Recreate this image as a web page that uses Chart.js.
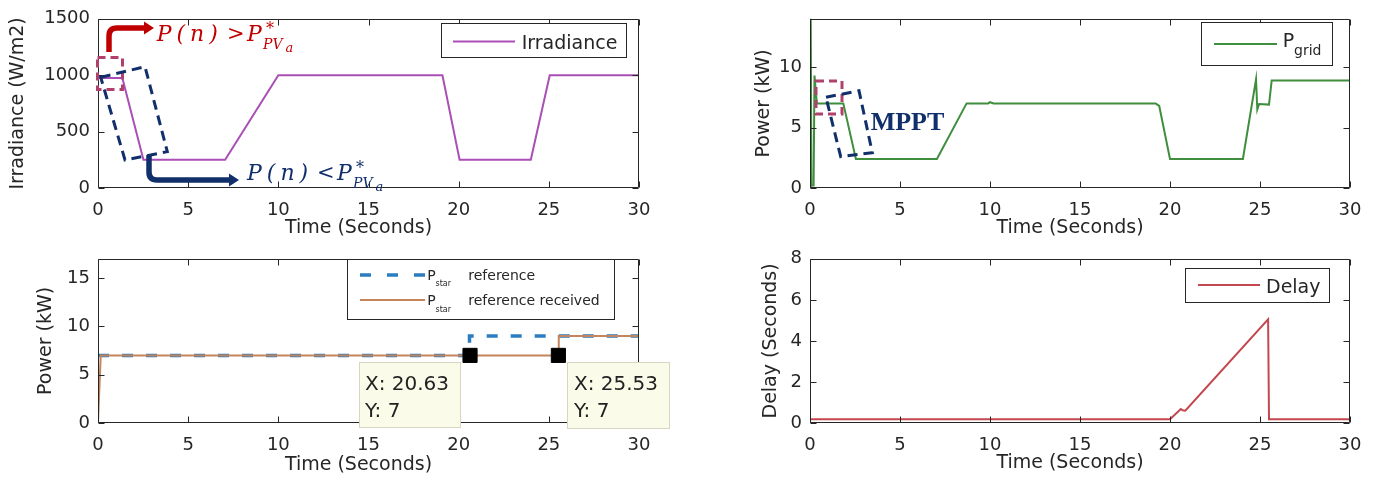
<!DOCTYPE html>
<html><head><meta charset="utf-8">
<script src="https://cdn.jsdelivr.net/npm/chart.js@4.4.0/dist/chart.umd.min.js"></script>
<style>
html,body{margin:0;padding:0;background:#fff;}
body{width:1375px;height:478px;position:relative;overflow:hidden;font-family:'DejaVu Sans',sans-serif;color:#262626;}
.pane{position:absolute;}
.pane canvas{display:block;}
.box{position:absolute;box-sizing:border-box;background:#fff;border:1px solid #262626;}
.tip{position:absolute;box-sizing:border-box;background:#fbfbea;border:1px solid #d6d6c2;}
.t{position:absolute;line-height:1;white-space:pre;}
.s{font-family:'DejaVu Sans',sans-serif;color:#262626;}
.m{font-family:'DejaVu Serif',serif;font-style:italic;}
.r{color:#c00000;}
.n{color:#112f6b;}
</style></head>
<body>
<div class="pane" style="left:0;top:0;width:687px;height:240px"><canvas id="c1" width="687" height="240"></canvas></div>
<div class="pane" style="left:687px;top:0;width:688px;height:240px"><canvas id="c2" width="688" height="240"></canvas></div>
<div class="pane" style="left:0;top:240px;width:687px;height:238px"><canvas id="c3" width="687" height="238"></canvas></div>
<div class="pane" style="left:687px;top:240px;width:688px;height:238px"><canvas id="c4" width="688" height="238"></canvas></div>

<!-- legends -->
<div class="box" style="left:441px;top:23px;width:186px;height:35px"></div>
<div class="box" style="left:1201px;top:22px;width:132px;height:44px"></div>
<div class="box" style="left:347px;top:259px;width:268px;height:61px"></div>
<div class="box" style="left:1185px;top:268px;width:145px;height:35px"></div>

<!-- data tips -->
<div class="tip" style="left:359px;top:362px;width:102px;height:66px"></div>
<div class="tip" style="left:567px;top:362px;width:103px;height:67px"></div>

<svg width="1375" height="478" style="position:absolute;left:0;top:0;pointer-events:none">
  <line x1="453" y1="41.5" x2="515" y2="41.5" stroke="#a94fb5" stroke-width="2"/>
  <line x1="1214" y1="44" x2="1277" y2="44" stroke="#3e8e3e" stroke-width="2"/>
  <line x1="360" y1="275" x2="426" y2="275" stroke="#2b7cc0" stroke-width="3.5" stroke-dasharray="11 16"/>
  <line x1="360" y1="300" x2="425" y2="300" stroke="#c4845c" stroke-width="2"/>
  <line x1="1198" y1="285" x2="1260" y2="285" stroke="#c3474e" stroke-width="2"/>

  <path d="M109,52 V36 Q109,28 117,28 H146" fill="none" stroke="#c00000" stroke-width="5.5"/>
  <polygon points="144,21.5 154,28 144,34.5" fill="#c00000"/>
  <path d="M149,155 V172 Q149,180 157,180 H231" fill="none" stroke="#112f6b" stroke-width="5.5"/>
  <polygon points="229,173.5 239,180 229,186.5" fill="#112f6b"/>
  <rect x="97.5" y="57.5" width="25" height="32" fill="none" stroke="#b0406c" stroke-width="3" stroke-dasharray="8 5"/>
  <polygon points="100.7,77.3 145,66.7 167.3,151.7 125,160" fill="none" stroke="#112f6b" stroke-width="3" stroke-dasharray="10 6"/>
  <rect x="816" y="81" width="26" height="33" fill="none" stroke="#b0406c" stroke-width="3" stroke-dasharray="8 5"/>
  <polygon points="826,97.3 859,90.7 872.3,152.7 840.7,156.7" fill="none" stroke="#112f6b" stroke-width="3" stroke-dasharray="10 6"/>
</svg>

<!-- legend texts -->
<span class="t s" style="left:521.7px;top:33.2px;font-size:19px">Irradiance</span>
<span class="t s" style="left:1282.7px;top:31.2px;font-size:19px">P</span>
<span class="t s" style="left:1294px;top:43.2px;font-size:14px">grid</span>
<span class="t s" style="left:427.3px;top:267.5px;font-size:14px">P</span>
<span class="t s" style="left:435.5px;top:280.2px;font-size:8px">star</span>
<span class="t s" style="left:468.3px;top:267.5px;font-size:14px">reference</span>
<span class="t s" style="left:427.3px;top:293.2px;font-size:14px">P</span>
<span class="t s" style="left:435.5px;top:305.7px;font-size:8px">star</span>
<span class="t s" style="left:468.3px;top:293.2px;font-size:14px">reference received</span>
<span class="t s" style="left:1266px;top:277.2px;font-size:19px">Delay</span>

<!-- data tip texts -->
<span class="t s" style="left:365px;top:373.1px;font-size:20px;color:#222">X: 20.63</span>
<span class="t s" style="left:365px;top:399.8px;font-size:20px;color:#222">Y: 7</span>
<span class="t s" style="left:574px;top:373.1px;font-size:20px;color:#222">X: 25.53</span>
<span class="t s" style="left:574px;top:399.8px;font-size:20px;color:#222">Y: 7</span>

<!-- annotations -->
<span class="t m r" style="left:156.7px;top:23px;font-size:22px;letter-spacing:5px">P(n)</span>
<span class="t r" style="left:227px;top:23px;font-size:21px;font-family:'DejaVu Serif',serif">&gt;</span>
<span class="t m r" style="left:247px;top:23px;font-size:22px">P</span>
<span class="t m r" style="left:266px;top:20.5px;font-size:16px">*</span>
<span class="t m r" style="left:263px;top:37px;font-size:14px">PV</span>
<span class="t m r" style="left:285.5px;top:41px;font-size:13px">a</span>

<span class="t m n" style="left:247px;top:162.3px;font-size:22px;letter-spacing:5px">P(n)</span>
<span class="t n" style="left:317px;top:162.3px;font-size:21px;font-family:'DejaVu Serif',serif">&lt;</span>
<span class="t m n" style="left:337px;top:162.3px;font-size:22px">P</span>
<span class="t m n" style="left:356px;top:159.8px;font-size:16px">*</span>
<span class="t m n" style="left:353px;top:176.3px;font-size:14px">PV</span>
<span class="t m n" style="left:375.5px;top:180.3px;font-size:13px">a</span>

<span class="t n" style="left:870.7px;top:108.9px;font-size:26px;font-family:'Liberation Serif',serif;font-weight:bold">MPPT</span>

<script>
// ---- data ----
const xTicks = [0, 5, 10, 15, 20, 25, 30];
const irrTicks = [0, 500, 1000, 1500];
const gridTicks = [0, 5, 10];
const pstarTicks = [0, 5, 10, 15];
const delayTicks = [0, 2, 4, 6, 8];

const irrTime  = [0, 1.35, 2.52, 7.05, 10.0, 19.1, 20.05, 24.0, 25.05, 30];
const irrValue = [975, 975, 250, 250, 1000, 1000, 250, 250, 1000, 1000];

const gridTime  = [0, 0.04, 0.08, 0.2, 0.25, 0.38, 1.85, 2.55, 7.05, 8.7, 9.9, 10.0, 10.2, 19.2, 19.4, 20.0, 24.05, 24.78, 24.85, 24.95, 25.5, 25.65, 30];
const gridPower = [0, 14.2, 0.2, 0.2, 9.3, 7.0, 7.0, 2.4, 2.4, 7.0, 7.0, 7.1, 7.0, 7.0, 6.8, 2.4, 2.4, 9.0, 6.5, 6.95, 6.9, 8.9, 8.9];

const refTime  = [0, 20.6, 20.6, 30];
const refPower = [7, 7, 9, 9];
const recTime  = [0, 0.15, 25.53, 25.55, 30];
const recPower = [0, 7, 7, 9, 9];
const tipTime  = [20.63, 25.53];
const tipPower = [7, 7];

const delayTime  = [0, 20.0, 20.6, 20.7, 20.85, 25.45, 25.5, 30];
const delayValue = [0.18, 0.18, 0.68, 0.62, 0.6, 5.05, 0.18, 0.18];

// ---- helpers ----
const INK = '#262626';
Chart.defaults.font.family = "'DejaVu Sans', sans-serif";
Chart.defaults.color = INK;
const pts = (xs, ys) => xs.map((x, i) => ({x: x, y: ys[i]}));

const matlabFrame = {
  id: 'matlabFrame',
  afterDraw(chart) {
    const {ctx, chartArea: a, scales: {x, y}} = chart;
    const L = Math.round(a.left) + 0.5, R = Math.round(a.right) - 0.5;
    const T = Math.round(a.top) + 0.5, B = Math.round(a.bottom) - 0.5;
    ctx.save();
    ctx.strokeStyle = INK; ctx.lineWidth = 1;
    ctx.beginPath();
    ctx.rect(L, T, R - L, B - T);
    const len = 6;
    x.ticks.forEach(t => {
      const p = Math.round(x.getPixelForValue(t.value)) + 0.5;
      ctx.moveTo(p, B); ctx.lineTo(p, B - len);
      ctx.moveTo(p, T); ctx.lineTo(p, T + len);
    });
    y.ticks.forEach(t => {
      const p = Math.round(y.getPixelForValue(t.value)) + 0.5;
      ctx.moveTo(L, p); ctx.lineTo(L + len, p);
      ctx.moveTo(R, p); ctx.lineTo(R - len, p);
    });
    ctx.stroke();
    ctx.restore();
  }
};
// MATLAB places the x label a little left of the axes centre: shift only the title while the scale draws
const titleShift = {
  id: 'titleShift',
  beforeDraw(chart, args, opts) {
    const s = chart.scales.x;
    if (opts && opts.dx) { s.left += opts.dx; s.right += opts.dx; chart.$shifted = true; }
  },
  beforeDatasetsDraw(chart, args, opts) {
    const s = chart.scales.x;
    if (chart.$shifted) { s.left -= opts.dx; s.right -= opts.dx; chart.$shifted = false; }
  }
};

function panel(id, cfg) {
  return new Chart(document.getElementById(id), {
    type: 'line',
    data: {datasets: cfg.datasets},
    options: {
      responsive: false, animation: false, devicePixelRatio: 1,
      layout: {padding: {left: 0, top: cfg.top, right: cfg.right, bottom: 0}},
      elements: {point: {radius: 0}, line: {tension: 0}},
      plugins: {legend: {display: false}, tooltip: {enabled: false}, titleShift: {dx: -10}},
      scales: {
        x: {
          type: 'linear', min: 0, max: 30,
          afterBuildTicks: s => { s.ticks = xTicks.map(v => ({value: v})); },
          afterFit: s => { s.height = cfg.xh; },
          grid: {display: false, drawTicks: false}, border: {display: false},
          ticks: {padding: 12, color: INK, font: {size: 18}, maxRotation: 0, autoSkip: false, callback: v => String(v)},
          title: {display: true, text: 'Time (Seconds)', color: INK, font: {size: 19}, padding: {top: 0, bottom: cfg.xtp}}
        },
        y: {
          type: 'linear', min: cfg.ymin, max: cfg.ymax,
          afterBuildTicks: s => { s.ticks = cfg.yTicks.map(v => ({value: v})); },
          afterFit: s => { s.width = cfg.yw; },
          grid: {display: false, drawTicks: false}, border: {display: false},
          ticks: {padding: 8, color: INK, font: {size: 18}, autoSkip: false, callback: v => String(v)},
          title: {display: true, text: cfg.ytitle, color: INK, font: {size: 19}, padding: {top: cfg.ytp, bottom: 0}}
        }
      }
    },
    plugins: [matlabFrame, titleShift]
  });
}

const lineDs = (label, xs, ys, color, extra) => Object.assign({
  label: label, data: pts(xs, ys), borderColor: color, backgroundColor: color,
  borderWidth: 2, pointRadius: 0, fill: false
}, extra || {});

panel('c1', {
  top: 15, right: 48, yw: 98, xh: 52, xtp: 1, ytp: 6.6,
  ymin: 0, ymax: 1500, yTicks: irrTicks, ytitle: 'Irradiance (W/m2)',
  datasets: [lineDs('Irradiance', irrTime, irrValue, '#a94fb5')]
});
panel('c2', {
  top: 15, right: 25, yw: 123, xh: 52, xtp: 1, ytp: 65.6,
  ymin: 0, ymax: 14, yTicks: gridTicks, ytitle: 'Power (kW)',
  datasets: [lineDs('Pgrid', gridTime, gridPower, '#3e8e3e')]
});
panel('c3', {
  top: 13, right: 48, yw: 98, xh: 55, xtp: 1.6, ytp: 34.6,
  ymin: 0, ymax: 17, yTicks: pstarTicks, ytitle: 'Power (kW)',
  datasets: [
    lineDs('Pstar reference', refTime, refPower, '#2b7cc0', {borderWidth: 3.5, borderDash: [11, 13], order: 2}),
    lineDs('Pstar reference received', recTime, recPower, '#c4845c', {order: 1}),
    {label: 'Data tips', data: pts(tipTime, tipPower), showLine: false, pointStyle: 'rect',
     pointRadius: 10, pointBackgroundColor: '#000', pointBorderColor: '#000', borderColor: '#000', order: 0}
  ]
});
panel('c4', {
  top: 13, right: 25, yw: 123, xh: 55, xtp: 3.3, ytp: 72.6,
  ymin: 0, ymax: 8, yTicks: delayTicks, ytitle: 'Delay (Seconds)',
  datasets: [lineDs('Delay', delayTime, delayValue, '#c3474e')]
});
</script>
</body></html>
